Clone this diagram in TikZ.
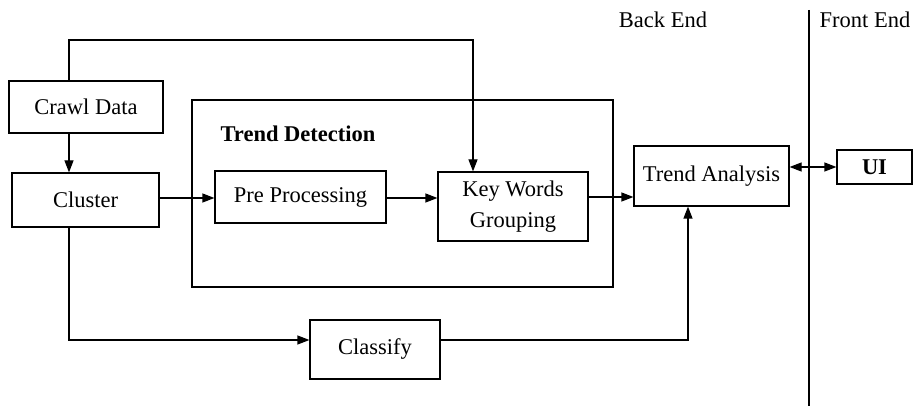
\documentclass[tikz,border=0pt]{standalone}
\usepackage{fontspec}
\setmainfont{Liberation Serif}
\usetikzlibrary{arrows.meta}

\begin{document}
\begin{tikzpicture}[x=1pt,y=-1pt,line width=1.2pt,
  font=\fontsize{22.5}{26}\selectfont,
  boxstyle/.style={draw,rectangle,inner sep=0pt,align=center},
  arr/.style={-{Triangle[length=12pt,width=9pt]}}]
 \useasboundingbox (0,0) rectangle (914,406);

 % boxes
 \node [boxstyle,minimum width=154,minimum height=52] (crawl) at (86,107) {Crawl Data};
 \node [boxstyle,minimum width=147,minimum height=54] (cluster) at (85.5,200) {Cluster};
 \node [boxstyle,minimum width=421,minimum height=187] (detect) at (402.5,193.5) {};
 \node [font=\fontsize{22.5}{26}\selectfont\bfseries] (title) at (298,134) {Trend Detection};
 \node [boxstyle,minimum width=171,minimum height=52] (prep) at (300.5,197) {Pre Processing};
 \node [boxstyle,minimum width=150,minimum height=69] (kwg) at (513,206.5) {Key Words\\[5pt]Grouping};
 \node [boxstyle,minimum width=155,minimum height=60] (trend) at (711.5,176) {Trend Analysis};
 \node [boxstyle,minimum width=75,minimum height=34,font=\fontsize{22.5}{26}\selectfont\bfseries] (ui) at (874.5,167) {UI};
 \node [boxstyle,minimum width=130,minimum height=59] (classify) at (375,349.5) {Classify};

 % back end / front end split
 \coordinate (sepT) at (809,10);
 \coordinate (sepB) at (809,406);
 \draw (sepT) -- (sepB);
 \node (back) at (663,20) {Back End};
 \node (front) at (865,20) {Front End};

 % connectors
 \coordinate (loopL) at (69,40);
 \coordinate (loopR) at (473,40);
 \draw [arr] (crawl.north -| loopL) -- (loopL) -- (loopR) -- (kwg.north -| loopR);
 \draw [arr] (crawl.south -| loopL) -- (cluster.north -| loopL);
 \draw [arr] (cluster.east |- 0,198) -- (prep.west |- 0,198);
 \draw [arr] (prep.east |- 0,198) -- (kwg.west |- 0,198);
 \draw [arr] (kwg.east |- 0,197) -- (trend.west |- 0,197);
 \draw [{Triangle[length=12pt,width=9pt]}-{Triangle[length=12pt,width=9pt]}] (trend.east |- ui) -- (ui.west);
 \draw [arr] (cluster.south -| loopL) |- (classify.west |- 0,340);
 \draw [arr] (classify.east |- 0,340) -| (trend.south -| 688,0);
\end{tikzpicture}
\end{document}
